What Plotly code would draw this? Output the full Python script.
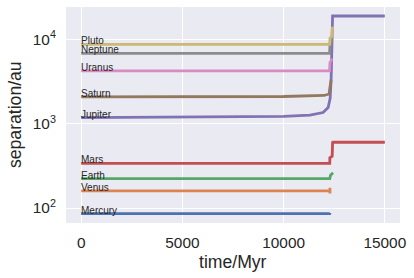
import math
import plotly.graph_objects as go

names = ["Mercury", "Venus", "Earth", "Mars", "Jupiter", "Saturn", "Uranus", "Neptune", "Pluto"]
colors = ["#4C72B0", "#DD8452", "#55A868", "#C44E52", "#8172B3", "#937860", "#DA8BC3", "#8C8C8C", "#CCB974"]

t_mercury = [0, 12280, 12300]
a_mercury = [86, 86, 88]
t_venus = [0, 12290, 12290, 12290]
a_venus = [160, 160, 149, 174]
t_earth = [0, 12280, 12320, 12440]
a_earth = [223, 223, 245, 262]
t_mars = [0, 12280, 12285, 12400, 12420, 12440, 15000]
a_mars = [339, 339, 395, 412, 600, 603, 603]
t_jupiter = [0, 5000, 10000, 11300, 11950, 12200, 12300, 12350, 12380, 12400, 12420, 15000]
a_jupiter = [1179, 1190, 1220, 1263, 1357, 1550, 2000, 3500, 7000, 13000, 18900, 18900]
t_saturn = [0, 10000, 12000, 12250, 12280, 12320, 12350]
a_saturn = [2075, 2100, 2160, 2250, 2600, 3100, 3300]
t_uranus = [0, 12270, 12290, 12330, 12400]
a_uranus = [4227, 4227, 5300, 5500, 5900]
t_neptune = [0, 12270, 12290, 12340, 12380]
a_neptune = [6810, 6810, 8500, 9000, 10300]
t_pluto = [0, 12270, 12290, 12380, 12420]
a_pluto = [8716, 8716, 10300, 10800, 14100]

times = [t_mercury, t_venus, t_earth, t_mars, t_jupiter, t_saturn, t_uranus, t_neptune, t_pluto]
seps = [a_mercury, a_venus, a_earth, a_mars, a_jupiter, a_saturn, a_uranus, a_neptune, a_pluto]

x_ticks = [0, 5000, 10000, 15000]
x_ticktext = ["0", "5000", "10000", "15000"]
y_ticks = [100, 1000, 10000]
y_ticktext = ["10<sup>2</sup>", "10<sup>3</sup>", "10<sup>4</sup>"]

FONT = "Liberation Sans, Arial"

fig = go.Figure()
for n, c, t, a in zip(names, colors, times, seps):
    fig.add_trace(go.Scatter(x=t, y=a, mode="lines", name=n,
                             line=dict(color=c, width=2.8), showlegend=False))

annotations = []
for n, a in zip(names, seps):
    annotations.append(dict(x=0, y=math.log10(a[0]), xref="x", yref="y",
                            text=n, showarrow=False, xanchor="left", yanchor="bottom",
                            borderpad=0, xshift=-1, yshift=-3,
                            font=dict(family=FONT, size=10, color="#262626")))
annotations.append(dict(x=0.5, y=(223 - 262) / 216, xref="paper", yref="paper", text="time/Myr",
                        showarrow=False, xanchor="center", yanchor="middle",
                        font=dict(family=FONT, size=17.6, color="#262626")))
annotations.append(dict(x=(15 - 66) / (400 - 66), y=0.5, xref="paper", yref="paper",
                        text="separation/au", showarrow=False, textangle=-90,
                        xanchor="center", yanchor="middle",
                        font=dict(family=FONT, size=17.6, color="#262626")))

fig.update_layout(
    width=414, height=278,
    margin=dict(l=66, r=14, t=7, b=55),
    paper_bgcolor="white", plot_bgcolor="#EAEAF2",
    font=dict(family=FONT, size=15.4, color="#262626"),
    annotations=annotations,
)
fig.update_xaxes(range=[-750, 15750], tickvals=x_ticks, ticktext=x_ticktext,
                 showgrid=True, gridcolor="white",
                 gridwidth=1.2, zeroline=False, showline=False,
                 ticks="outside", ticklen=6, tickcolor="rgba(0,0,0,0)")
fig.update_yaxes(type="log", range=[1.823, 4.383], tickvals=y_ticks, ticktext=y_ticktext,
                 showgrid=True, gridcolor="white", gridwidth=1.2, zeroline=False, showline=False,
                 ticks="outside", ticklen=6, tickcolor="rgba(0,0,0,0)")

fig.write_html("out.html")
